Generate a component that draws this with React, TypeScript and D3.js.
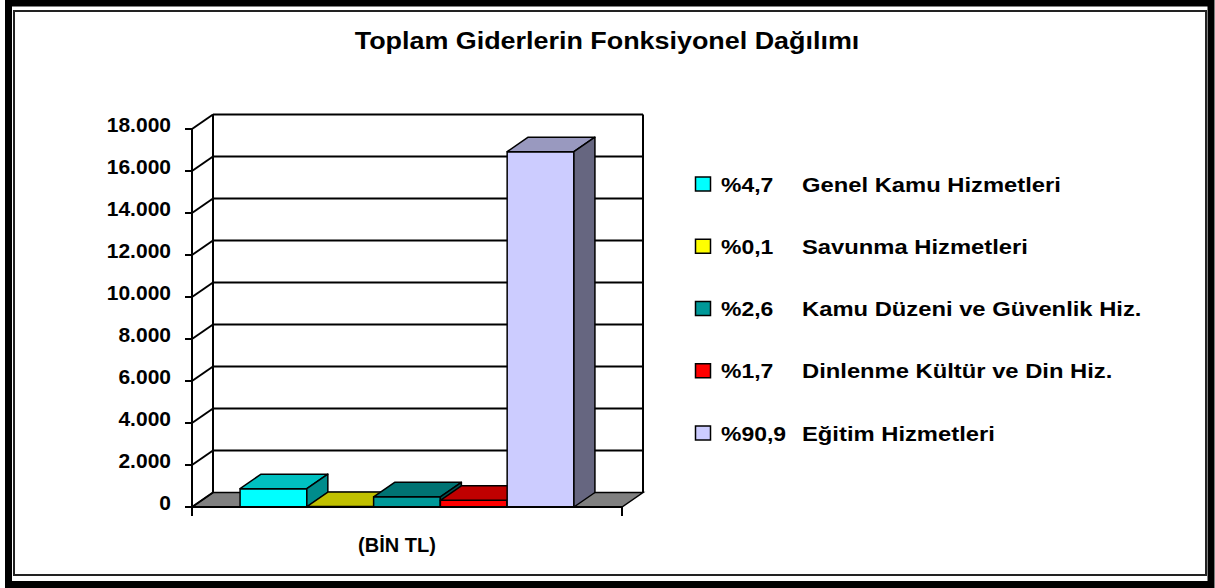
import * as d3 from 'd3'

const W = 1215
const H = 588

const series = [
  'Genel Kamu Hizmetleri',
  'Savunma Hizmetleri',
  'Kamu Düzeni ve Güvenlik Hiz.',
  'Dinlenme Kültür ve Din Hiz.',
  'Eğitim Hizmetleri',
]
const percents = ['%4,7', '%0,1', '%2,6', '%1,7', '%90,9']
const values = [875, 19, 484, 316, 16920]
const yTicks = [0, 2000, 4000, 6000, 8000, 10000, 12000, 14000, 16000, 18000]

const FRONT = ['#00FFFF', '#FFFF00', '#009999', '#FF0000', '#CCCCFF']
const TOP = ['#00C0C0', '#C0C000', '#007373', '#C00000', '#9999BF']
const SIDE = ['#008C8C', '#8C8C00', '#005555', '#8C0000', '#666680']

const FONT = 'Arial, "Liberation Sans", Helvetica, sans-serif'

// oblique depth offset of the 3D box
const DX = 21
const DY = -14.5

const fmt = (v: number) => d3.format(',')(v).replace(/,/g, '.')

export default function App() {
  const x0 = 192
  const x1 = 622
  const y = d3.scaleLinear().domain([0, 18000]).range([507, 129])
  const band = d3
    .scaleBand<string>()
    .domain(series)
    .range([x0, x1])
    .paddingInner(0)
    .paddingOuter(0.72)
  const legendY = d3
    .scalePoint<string>()
    .domain(series)
    .range([184, 433])

  const yb = y(0)
  const yt = y(18000)
  const pts = (a: [number, number][]) => a.map((p) => p.join(',')).join(' ')

  return (
    <svg
      width={W}
      height={H}
      style={{ position: 'absolute', left: 0, top: 0, display: 'block', background: '#fff' }}
      fontFamily={FONT}
      fontWeight="bold"
    >
      {/* frame */}
      <rect x={8.5} y={3} width={1202.5} height={581.5} fill="none" stroke="#000" strokeWidth={7} />
      <rect x={14} y={11} width={1192} height={564} fill="none" stroke="#222" strokeWidth={2} />

      <g transform={`translate(607,49) scale(1.17,1)`}>
        <text textAnchor="middle" fontSize={23} fill="#000">
          Toplam Giderlerin Fonksiyonel Dağılımı
        </text>
      </g>

      {/* back wall */}
      <g stroke="#000" strokeWidth={2} fill="none">
        {yTicks.slice(1).map((t) => (
          <line key={'g' + t} x1={x0 + DX} x2={x1 + DX} y1={y(t) + DY} y2={y(t) + DY} />
        ))}
        <line x1={x0 + DX} x2={x0 + DX} y1={yt + DY} y2={yb + DY} />
        <line x1={x1 + DX} x2={x1 + DX} y1={yt + DY} y2={yb + DY} />
      </g>

      {/* floor */}
      <polygon
        points={pts([
          [x0, yb],
          [x0 + DX, yb + DY],
          [x1 + DX, yb + DY],
          [x1, yb],
        ])}
        fill="#808080"
        stroke="#000"
        strokeWidth={1.5}
      />

      {/* left wall */}
      <g stroke="#000" strokeWidth={2}>
        {yTicks.map((t) => (
          <line key={'w' + t} x1={x0} x2={x0 + DX} y1={y(t)} y2={y(t) + DY} />
        ))}
      </g>

      {/* bars */}
      {series.map((s, i) => {
        const bx0 = band(s) as number
        const bx1 = bx0 + band.bandwidth()
        const yv = y(values[i])
        return (
          <g key={s} stroke="#000" strokeWidth={1.5} strokeLinejoin="round">
            <rect x={bx0} y={yv} width={bx1 - bx0} height={yb - yv} fill={FRONT[i]} />
            <polygon
              points={pts([
                [bx0, yv],
                [bx0 + DX, yv + DY],
                [bx1 + DX, yv + DY],
                [bx1, yv],
              ])}
              fill={TOP[i]}
            />
            <polygon
              points={pts([
                [bx1, yv],
                [bx1 + DX, yv + DY],
                [bx1 + DX, yb + DY],
                [bx1, yb],
              ])}
              fill={SIDE[i]}
            />
          </g>
        )
      })}

      {/* axes */}
      <g stroke="#000" strokeWidth={2}>
        <line x1={x0} x2={x0} y1={yt} y2={yb + 9} />
        <line x1={x0} x2={x1} y1={yb} y2={yb} />
        <line x1={x1} x2={x1} y1={yb} y2={yb + 9} />
        {yTicks.map((t) => (
          <line key={'t' + t} x1={x0 - 7} x2={x0} y1={y(t)} y2={y(t)} />
        ))}
      </g>
      {yTicks.map((t) => (
        <text key={'l' + t} x={171} y={y(t) + 3} textAnchor="end" fontSize={21} fill="#000">
          {fmt(t)}
        </text>
      ))}

      <text x={397} y={552} textAnchor="middle" fontSize={20} fill="#000">
        (BİN TL)
      </text>

      {/* legend */}
      {series.map((s, i) => {
        const cy = legendY(s) as number
        return (
          <g key={'lg' + s}>
            <rect x={695.5} y={cy - 7} width={15} height={14} fill={FRONT[i]} stroke="#000" strokeWidth={1.5} />
            <g transform={`translate(721,${cy + 7.5}) scale(1.12,1)`}>
              <text fontSize={20.5} fill="#000">{percents[i]}</text>
            </g>
            <g transform={`translate(802,${cy + 7.5}) scale(1.16,1)`}>
              <text fontSize={20.5} fill="#000">{s}</text>
            </g>
          </g>
        )
      })}
    </svg>
  )
}
